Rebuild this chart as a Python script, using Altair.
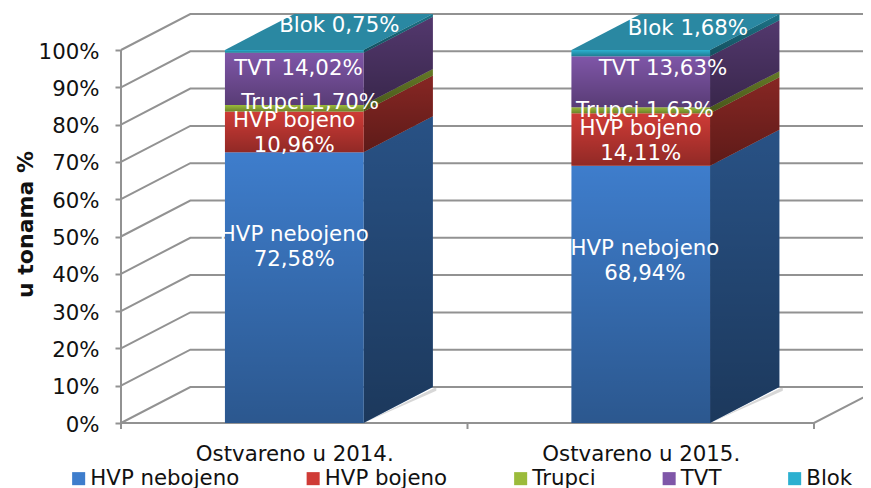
import altair as alt
import pandas as pd

categories = ["Ostvareno u 2014.", "Ostvareno u 2015."]
series = ["HVP nebojeno", "HVP bojeno", "Trupci", "TVT", "Blok"]
values_2014 = [72.58, 10.96, 1.70, 14.02, 0.75]
values_2015 = [68.94, 14.11, 1.63, 13.63, 1.68]
colors = ["#3E7DCC", "#CF3B36", "#9BBB3B", "#7F56A8", "#2CB0D0"]
y_ticks = [0, 10, 20, 30, 40, 50, 60, 70, 80, 90, 100]

# chart geometry in data units
BAR = 0.4
DX = 0.2
DY = 9.65
FONT = "DejaVu Sans"
FS = 21.3
GRID = "#929292"
INK = "#111111"
# label nudges (category units, percent points), one pair per segment
shift_2014 = [(0, 14.1), (0, 3.0), (0.046, 1.5), (0.012, 2.7), (0.13, 6.9)]
shift_2015 = [(0.012, 12.05), (0, 2.85), (0.012, -0.1), (0.064, 3.4), (0.136, 6.4)]

front, side, top, labels, shadow = [], [], [], [], []
for i, (cat, vals, shifts) in enumerate(zip(categories, [values_2014, values_2015], [shift_2014, shift_2015])):
    cx = i + 0.5
    xl, xr = cx - BAR / 2, cx + BAR / 2
    lo = 0.0
    for name, v, (sx, sy) in zip(series, vals, shifts):
        hi = lo + v
        front.append(dict(cat=cat, series=name, x=xl, x2=xr, y=lo, y2=hi))
        for t in (0, 1):
            side.append(dict(cat=cat, series=name, x=xr + DX * t, y=lo + DY * t, y2=hi + DY * t))
        pct = f"{v:.2f}".replace(".", ",") + "%"
        sep = "\n" if name.startswith("HVP") else " "
        labels.append(dict(x=cx + sx, y=(lo + hi) / 2 + sy, text=name + sep + pct))
        lo = hi
    top += [
        dict(cat=cat, x=xl, y=lo, y2=lo),
        dict(cat=cat, x=xl + DX, y=lo, y2=lo + DY),
        dict(cat=cat, x=xr, y=lo, y2=lo + DY),
        dict(cat=cat, x=xr + DX, y=lo + DY, y2=lo + DY),
    ]
    for t in (0, 1):
        shadow.append(dict(cat=cat, x=xr + (DX + 0.01) * t, y=DY * t, y2=max(DY * t - 1.0, 0)))

grid = []
for t in y_ticks:
    for px, py in ((0, t), (DX, t + DY), (2 + DX, t + DY)):
        grid.append(dict(tick=t, x=px, y=py))
frame = pd.DataFrame([
    dict(part="wall", x=0, y=0), dict(part="wall", x=0, y=100),
    dict(part="floor", x=0, y=0), dict(part="floor", x=2, y=0), dict(part="floor", x=2 + DX, y=DY),
])

xs = alt.Scale(domain=[0, 742 / 346.5], nice=False, zero=False)
ys = alt.Scale(domain=[0, 413 / 3.73], nice=False, zero=False)
x_axis = alt.Axis(
    values=[0.5, 1.5], domain=False, ticks=False, grid=False, title=None,
    labelFont=FONT, labelFontSize=FS, labelColor=INK, labelPadding=20, labelLimit=400,
    labelExpr=f"datum.value < 1 ? '{categories[0]}' : '{categories[1]}'",
)
y_axis = alt.Axis(
    values=y_ticks, domain=False, grid=False, tickColor=GRID, tickSize=6, tickWidth=2,
    labelFont=FONT, labelFontSize=FS, labelColor=INK, labelPadding=16, labelOffset=2,
    labelExpr="datum.value + '%'", title="u tonama %",
    titleFont=FONT, titleFontSize=22, titleFontWeight="bold", titleColor=INK,
    titleX=-96, titleY=214, titleBaseline="middle",
)
X = alt.X("x:Q", scale=xs, axis=x_axis)
Y = alt.Y("y:Q", scale=ys, axis=y_axis)
Y2 = alt.Y2("y2:Q")
color = alt.Color(
    "series:N",
    scale=alt.Scale(domain=series, range=colors),
    legend=alt.Legend(
        orient="none", legendX=-53, legendY=458, direction="horizontal", columns=5,
        gridAlign="none", columnPadding=62.5, symbolType="square", symbolSize=170,
        symbolStrokeWidth=0, labelFont=FONT, labelFontSize=FS, labelColor=INK,
        labelOffset=1, title=None, labelLimit=300,
    ),
)


def shade(a, b):
    return alt.Gradient(
        gradient="linear", x1=0, y1=0, x2=0, y2=1,
        stops=[alt.GradientStop(offset=0, color=f"rgba(0,0,0,{a})"),
               alt.GradientStop(offset=1, color=f"rgba(0,0,0,{b})")],
    )


grid_layer = alt.Chart(pd.DataFrame(grid)).mark_line(color=GRID, strokeWidth=2).encode(x=X, y=Y, detail="tick:O")
frame_layer = alt.Chart(frame).mark_line(color=GRID, strokeWidth=2).encode(x=X, y=Y, detail="part:N")
x_ticks = alt.Chart(pd.DataFrame({"x": [0, 1, 2]})).mark_rule(color=GRID, strokeWidth=2).encode(
    x=X, y=alt.value(413), y2=alt.value(419)
)
shadow_layer = alt.Chart(pd.DataFrame(shadow)).mark_area(color="#9a9a9a", opacity=0.4).encode(
    x=X, y=Y, y2=Y2, detail="cat:N"
)
top_layer = alt.Chart(pd.DataFrame(top)).mark_area(color="#2A88A2").encode(x=X, y=Y, y2=Y2, detail="cat:N")
side_df = pd.DataFrame(side)
side_layer = alt.Chart(side_df).mark_area().encode(x=X, y=Y, y2=Y2, color=color, detail="cat:N")
side_shade = alt.Chart(side_df).mark_area(color=shade(0.35, 0.55)).encode(
    x=X, y=Y, y2=Y2, detail=["cat:N", "series:N"]
)
front_df = pd.DataFrame(front)
front_layer = alt.Chart(front_df).mark_rect().encode(x=X, x2="x2:Q", y=Y, y2=Y2, color=color)
front_shade = alt.Chart(front_df).mark_rect(color=shade(0, 0.3)).encode(x=X, x2="x2:Q", y=Y, y2=Y2)
label_layer = alt.Chart(pd.DataFrame(labels)).mark_text(
    font=FONT, fontSize=FS, color="white", lineBreak="\n", lineHeight=25, baseline="middle", align="center"
).encode(x=X, y=Y, text="text:N")

chart = alt.layer(
    grid_layer, frame_layer, x_ticks, shadow_layer, top_layer, side_layer, side_shade,
    front_layer, front_shade, label_layer,
).properties(
    width=742, height=413,
    autosize=alt.AutoSizeParams(type="none"),
    padding={"left": 113, "top": 2, "right": 0, "bottom": 65},
).configure_view(stroke=None)

chart.save("out.html", embed_options={"renderer": "svg", "actions": False})
